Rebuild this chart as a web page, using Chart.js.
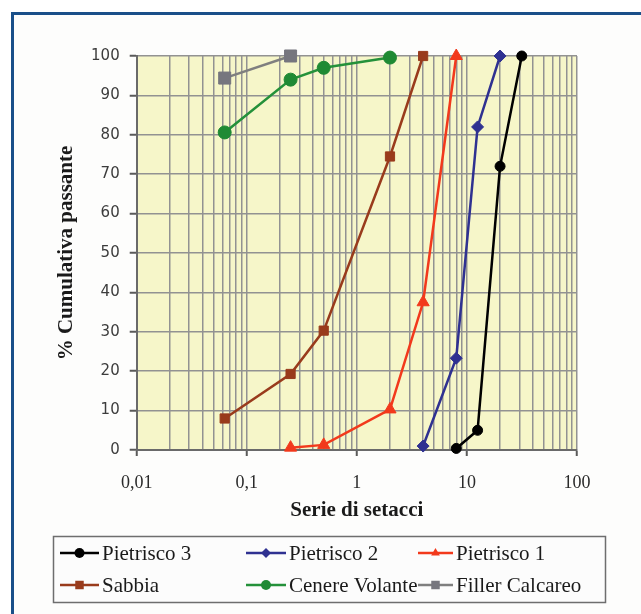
<!DOCTYPE html>
<html>
<head>
<meta charset="utf-8">
<script src="https://cdn.jsdelivr.net/npm/chart.js"></script>
<style>
  html, body { margin: 0; padding: 0; background: #ffffff; }
  #wrap { position: relative; width: 641px; height: 614px; }
  canvas { display: block; }
</style>
</head>
<body>
<div id="wrap"><canvas id="c" width="641" height="614"></canvas></div>
<script>
// ---------- data ----------
const seriesNames = ['Pietrisco 3', 'Pietrisco 2', 'Pietrisco 1', 'Sabbia', 'Cenere Volante', 'Filler Calcareo'];

const sievesPietrisco3 = [8, 12.5, 20, 31.5];
const passPietrisco3   = [0.4, 5, 72, 100];

const sievesPietrisco2 = [4, 8, 12.5, 20];
const passPietrisco2   = [1, 23.3, 82, 100];

const sievesPietrisco1 = [0.25, 0.5, 2, 4, 8];
const passPietrisco1   = [0.6, 1.3, 10.3, 37.5, 100];

const sievesSabbia = [0.063, 0.25, 0.5, 2, 4];
const passSabbia   = [8, 19.3, 30.3, 74.5, 100];

const sievesCenere = [0.063, 0.25, 0.5, 2];
const passCenere   = [80.6, 94, 97, 99.6];

const sievesFiller = [0.063, 0.25];
const passFiller   = [94.4, 100];

const xDecades    = [0.01, 0.1, 1, 10, 100];
const xTickLabels = ['0,01', '0,1', '1', '10', '100'];
const yTicks      = [0, 10, 20, 30, 40, 50, 60, 70, 80, 90, 100];

const xTitle = 'Serie di setacci';
const yTitle = '% Cumulativa passante';

// ---------- helpers ----------
function pts(xs, ys) { return xs.map((x, i) => ({ x: x, y: ys[i] })); }

const styles = [
  { color: '#000000', fill: '#000000', pointStyle: 'circle',   radius: 5 },
  { color: '#2f3191', fill: '#2f3191', pointStyle: 'rectRot',  radius: 6 },
  { color: '#f2391c', fill: '#f2391c', pointStyle: 'triangle', radius: 7 },
  { color: '#993b1c', fill: '#993b1c', pointStyle: 'rect',     radius: 6.5 },
  { color: '#24913a', fill: '#1f8a34', pointStyle: 'circle',   radius: 6.5 },
  { color: '#7f7f7f', fill: '#76767e', pointStyle: 'rect',     radius: 8.5 }
];
const dataSets = [
  pts(sievesPietrisco3, passPietrisco3),
  pts(sievesPietrisco2, passPietrisco2),
  pts(sievesPietrisco1, passPietrisco1),
  pts(sievesSabbia, passSabbia),
  pts(sievesCenere, passCenere),
  pts(sievesFiller, passFiller)
];

const datasets = seriesNames.map((name, i) => ({
  label: name,
  data: dataSets[i],
  showLine: true,
  borderColor: styles[i].color,
  backgroundColor: styles[i].fill,
  pointBackgroundColor: styles[i].fill,
  pointBorderColor: styles[i].fill,
  pointBorderWidth: 1,
  borderWidth: 2.5,
  pointStyle: styles[i].pointStyle,
  pointRadius: styles[i].radius,
  tension: 0,
  clip: false
}));

function isDecade(v) { return xDecades.some(d => Math.abs(d - v) < 1e-9); }

// ---------- plugins ----------
const background = {
  id: 'background',
  beforeDraw(chart) {
    const ctx = chart.ctx, a = chart.chartArea;
    ctx.save();
    ctx.fillStyle = '#ffffff';
    ctx.fillRect(0, 0, chart.width, chart.height);
    ctx.fillStyle = '#fdfdfc';
    ctx.fillRect(14, 15, chart.width, chart.height);
    // frame
    ctx.strokeStyle = '#1a4f89';
    ctx.lineWidth = 3;
    ctx.beginPath();
    ctx.moveTo(12.5, chart.height + 5);
    ctx.lineTo(12.5, 13.5);
    ctx.lineTo(chart.width + 5, 13.5);
    ctx.stroke();
    // plot area
    ctx.fillStyle = '#f6f6c9';
    ctx.fillRect(a.left, a.top, a.right - a.left, a.bottom - a.top);
    ctx.restore();
  }
};

function drawMarker(ctx, style, x, y, r) {
  ctx.beginPath();
  if (style === 'circle') {
    ctx.arc(x, y, r, 0, Math.PI * 2);
  } else if (style === 'rect') {
    const s = r * Math.SQRT1_2;
    ctx.rect(x - s, y - s, 2 * s, 2 * s);
  } else if (style === 'rectRot') {
    ctx.moveTo(x, y - r); ctx.lineTo(x + r, y); ctx.lineTo(x, y + r); ctx.lineTo(x - r, y);
    ctx.closePath();
  } else if (style === 'triangle') {
    ctx.moveTo(x, y - r);
    ctx.lineTo(x + r * Math.sin(Math.PI / 3), y + r * 0.5);
    ctx.lineTo(x - r * Math.sin(Math.PI / 3), y + r * 0.5);
    ctx.closePath();
  }
  ctx.fill();
}

const legendLayout = {
  box: { left: 53.5, top: 536.5, right: 605.5, bottom: 602.5 },
  rows: [553, 585],
  cols: [
    { x1: 60, x2: 99, tx: 102 },
    { x1: 246, x2: 286, tx: 289 },
    { x1: 418, x2: 453, tx: 456 }
  ]
};

const customLegend = {
  id: 'customLegend',
  afterDraw(chart) {
    const ctx = chart.ctx, L = legendLayout;
    ctx.save();
    ctx.fillStyle = '#fcfcfc';
    ctx.fillRect(L.box.left, L.box.top, L.box.right - L.box.left, L.box.bottom - L.box.top);
    ctx.strokeStyle = '#6e6e6e';
    ctx.lineWidth = 1.5;
    ctx.strokeRect(L.box.left, L.box.top, L.box.right - L.box.left, L.box.bottom - L.box.top);
    ctx.font = '21px "Liberation Serif", "Times New Roman", serif';
    ctx.textBaseline = 'middle';
    ctx.textAlign = 'left';
    chart.data.datasets.forEach((ds, i) => {
      const row = Math.floor(i / 3), col = i % 3;
      const y = L.rows[row], c = L.cols[col];
      ctx.strokeStyle = ds.borderColor;
      ctx.lineWidth = 2.5;
      ctx.beginPath();
      ctx.moveTo(c.x1, y); ctx.lineTo(c.x2, y);
      ctx.stroke();
      ctx.fillStyle = ds.pointBackgroundColor;
      drawMarker(ctx, ds.pointStyle, (c.x1 + c.x2) / 2, y, ds.pointStyle === 'rect' ? 6 : 5);
      ctx.fillStyle = '#1a1a1a';
      ctx.fillText(ds.label, c.tx, y + 1);
    });
    ctx.restore();
  }
};

// ---------- chart ----------
new Chart(document.getElementById('c'), {
  type: 'scatter',
  data: { datasets: datasets },
  plugins: [background, customLegend],
  options: {
    responsive: false,
    animation: false,
    devicePixelRatio: 1,
    layout: { padding: { top: 56, left: 0, right: 64, bottom: 0 } },
    plugins: { legend: { display: false }, tooltip: { enabled: false } },
    scales: {
      x: {
        type: 'logarithmic',
        min: 0.01,
        max: 100,
        afterFit(scale) { scale.height = 164; },
        afterBuildTicks(scale) {
          const t = [];
          xDecades.forEach((d, i) => {
            if (i < xDecades.length - 1) {
              for (let k = 1; k <= 9; k++) t.push({ value: +(d * k).toPrecision(3) });
            } else {
              t.push({ value: d });
            }
          });
          scale.ticks = t;
        },
        ticks: {
          autoSkip: false,
          maxRotation: 0,
          padding: 16,
          color: '#2a2a2a',
          font: { family: '"Liberation Serif", "Times New Roman", serif', size: 18 },
          callback(value) {
            const i = xDecades.findIndex(d => Math.abs(d - value) < 1e-9);
            return i >= 0 ? xTickLabels[i] : '';
          }
        },
        grid: {
          color: '#929292',
          lineWidth: 1.5,
          drawTicks: true,
          tickLength: 6,
          tickColor(ctx) { return ctx.tick && isDecade(ctx.tick.value) ? '#5a5a5a' : 'rgba(0,0,0,0)'; },
          tickWidth: 2
        },
        border: { color: '#6a6a6a', width: 2 },
        title: {
          display: true,
          text: xTitle,
          color: '#1a1a1a',
          font: { family: '"Liberation Serif", "Times New Roman", serif', size: 21, weight: 'bold' },
          padding: { top: 0, bottom: 91 }
        }
      },
      y: {
        type: 'linear',
        min: 0,
        max: 100,
        afterFit(scale) { scale.width = 136.7; },
        afterBuildTicks(scale) { scale.ticks = yTicks.map(v => ({ value: v })); },
        ticks: {
          padding: 10,
          color: '#3c3c3c',
          font: { family: '"DejaVu Sans", sans-serif', size: 15 }
        },
        grid: {
          color: '#929292',
          lineWidth: 1.5,
          tickLength: 7,
          tickColor: '#5a5a5a',
          tickWidth: 2
        },
        border: { color: '#6a6a6a', width: 2 },
        title: {
          display: true,
          text: yTitle,
          color: '#1a1a1a',
          font: { family: '"Liberation Serif", "Times New Roman", serif', size: 21, weight: 'bold' },
          padding: { top: 54, bottom: 0 }
        }
      }
    }
  }
});
</script>
</body>
</html>
